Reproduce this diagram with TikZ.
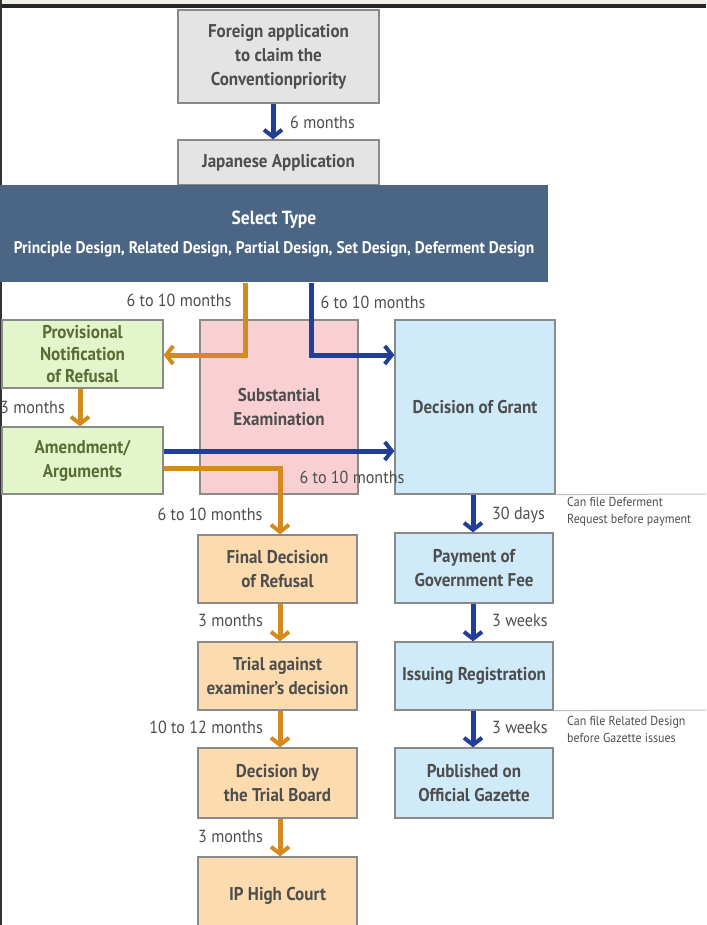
\documentclass[tikz,border=0pt]{standalone}
\usepackage{fontspec}
\setmainfont[FakeStretch=0.92]{PT Sans}
\usetikzlibrary{arrows.meta}
\definecolor{bgray}{HTML}{E4E4E4}
\definecolor{bsel}{HTML}{4B6584}
\definecolor{bgreen}{HTML}{E3F5CB}
\definecolor{bpink}{HTML}{F8D0D3}
\definecolor{bblue}{HTML}{CFEAF8}
\definecolor{borange}{HTML}{FCDCAE}
\definecolor{edge}{HTML}{8A8A8A}
\definecolor{aorange}{HTML}{D38B1F}
\definecolor{ablue}{HTML}{213F96}
\definecolor{txt}{HTML}{4E4E4E}
\definecolor{gtxt}{HTML}{5C6B35}
\definecolor{topstrip}{HTML}{F1EFE6}
\tikzset{
  box/.style={draw=edge, line width=1.3pt, align=center, font=\bfseries\fontsize{18.5}{24}\selectfont, text=txt, inner sep=0pt},
  oarr/.style={draw=aorange, line width=5pt, -{Straight Barb[length=7pt,width=18pt,line width=4pt]}},
  barr/.style={draw=ablue, line width=5pt, -{Straight Barb[length=7pt,width=18pt,line width=4pt]}},
  lbl/.style={font=\fontsize{17.5}{20}\selectfont, text=txt, inner sep=0pt},
  note/.style={font=\fontsize{13}{17}\selectfont, text=txt, inner sep=0pt, align=left, anchor=north west},
  hairline/.style={draw=black!25, line width=1pt}
}
\begin{document}
\begin{tikzpicture}[x=1pt,y=-1pt]
\useasboundingbox (0,0) rectangle (706,925);
\clip (0,0) rectangle (706,925);
\fill[white] (0,0) rectangle (706,925);
\fill[topstrip] (0,0) rectangle (706,4);
\fill[black!85] (0,4) rectangle (706,8);
\fill[black!80] (0,0) rectangle (2,925);

% boxes
\node[box, fill=bgray, minimum width=201pt, minimum height=93pt] (foreign) at (278.5,56.5) {Foreign application\\to claim the\\Conventionpriority};
\node[box, fill=bgray, minimum width=201pt, minimum height=45pt] (japan) at (278.5,162.5) {Japanese Application};
\node[box, draw=none, fill=bsel, minimum width=548pt, minimum height=97pt, text=white, font=\bfseries\fontsize{19}{30}\selectfont] (select) at (274,233.5) {Select Type\\[-1pt]{\fontsize{16.8}{20}\selectfont Principle Design, Related Design, Partial Design, Set Design, Deferment Design}};
\node[box, fill=bgreen, text=gtxt, minimum width=161pt, minimum height=68pt, font=\bfseries\fontsize{18.5}{22}\selectfont] (prov) at (82.5,354) {Provisional\\Notification\\of Refusal};
\node[box, fill=bpink, minimum width=158pt, minimum height=174pt] (subst) at (279,407) {Substantial\\Examination};
\node[box, fill=bblue, minimum width=160pt, minimum height=174pt] (grant) at (475,407) {Decision of Grant};
\node[box, fill=bgreen, text=gtxt, minimum width=161pt, minimum height=67pt] (amend) at (82.5,460.5) {Amendment/\\Arguments};
\node[box, fill=borange, minimum width=159pt, minimum height=68pt] (final) at (277.5,569) {Final Decision\\of Refusal};
\node[box, fill=bblue, minimum width=158pt, minimum height=70pt] (pay) at (474,568) {Payment of\\Government Fee};
\node[box, fill=borange, minimum width=159pt, minimum height=68pt] (trial) at (277.5,676) {Trial against\\examiner's decision};
\node[box, fill=bblue, minimum width=158pt, minimum height=68pt] (issue) at (474,676) {Issuing Registration};
\node[box, fill=borange, minimum width=159pt, minimum height=70pt] (board) at (277.5,783) {Decision by\\the Trial Board};
\node[box, fill=bblue, minimum width=158pt, minimum height=70pt] (pub) at (474,783) {Published on\\Official Gazette};
\node[box, fill=borange, minimum width=159pt, minimum height=78pt] (court) at (277.5,896) {IP High Court};

% thin lines
\draw[hairline] (grant.south east) -- (706,494);
\draw[hairline] (issue.south east) -- (706,710);

% arrows
\draw[barr] (foreign.south -| 273,0) -- (japan.north -| 273,0);
\draw[oarr] (select.south -| 245,0) -- (245,355) -- (prov.east |- 0,355);
\draw[barr] (select.south -| 311,0) -- (311,355) -- (grant.west |- 0,355);
\draw[oarr] (prov.south -| 80,0) -- (amend.north -| 80,0);
\draw[barr] (amend.east |- 0,451) -- (grant.west |- 0,451);
\draw[oarr] (amend.east |- 0,468) -- (280,468) -- (final.north -| 280,0);
\draw[barr] (grant.south -| 473,0) -- (pay.north -| 473,0);
\draw[barr] (pay.south -| 473,0) -- (issue.north -| 473,0);
\draw[barr] (issue.south -| 473,0) -- (pub.north -| 473,0);
\draw[oarr] (final.south -| 280,0) -- (trial.north -| 280,0);
\draw[oarr] (trial.south -| 280,0) -- (board.north -| 280,0);
\draw[oarr] (board.south -| 280,0) -- (court.north -| 280,0);

% labels
\node[lbl, anchor=west] (l1) at (290,122) {6 months};
\node[lbl] (l2) at (179,300) {6 to 10 months};
\node[lbl] (l3) at (373,302) {6 to 10 months};
\node[lbl, anchor=west] (l4) at (0,407) {3 months};
\node[lbl] (l5) at (352,477) {6 to 10 months};
\node[lbl] (l6) at (210,514) {6 to 10 months};
\node[lbl, anchor=west] (l7) at (492,515) {30 days};
\node[lbl, anchor=east] (l8) at (263,620) {3 months};
\node[lbl, anchor=west] (l9) at (492,620) {3 weeks};
\node[lbl, anchor=east] (l10) at (263,727) {10 to 12 months};
\node[lbl, anchor=west] (l11) at (492,727) {3 weeks};
\node[lbl, anchor=east] (l12) at (263,836) {3 months};
\node[note] (n1) at (567,497) {Can file Deferment\\Request before payment};
\node[note] (n2) at (567,716) {Can file Related Design\\before Gazette issues};
\end{tikzpicture}
\end{document}
